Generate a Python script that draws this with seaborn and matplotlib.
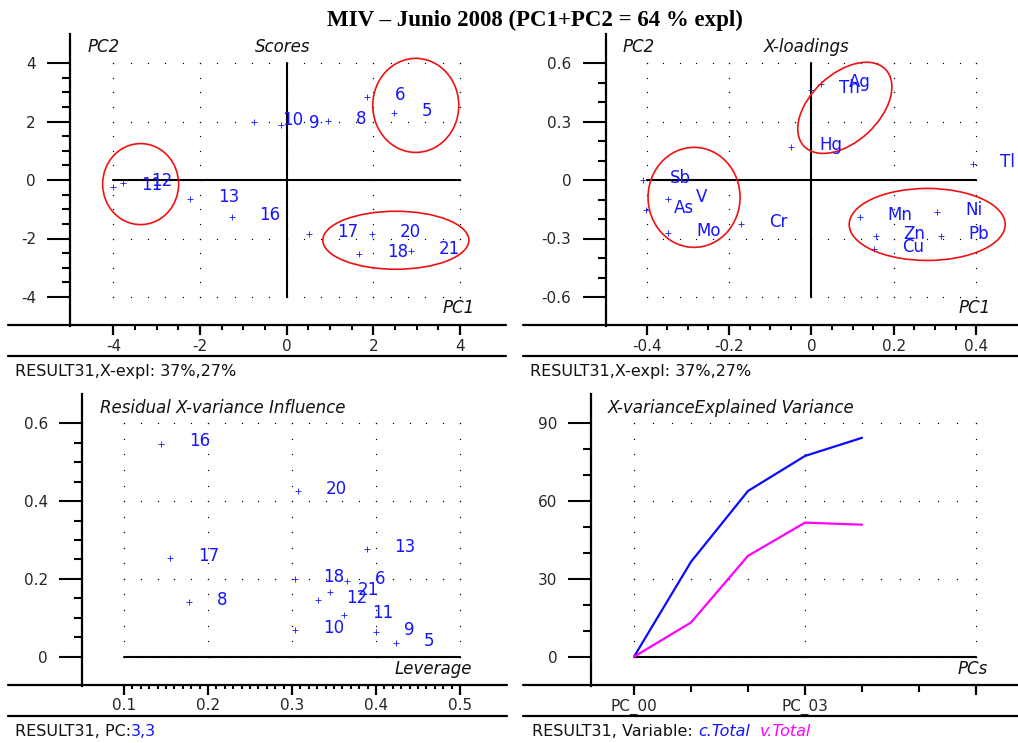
import numpy as np
import pandas as pd
import seaborn as sns
import matplotlib
matplotlib.use("Agg")
import matplotlib.pyplot as plt
from matplotlib.patches import Ellipse
from matplotlib.transforms import Affine2D
from matplotlib.lines import Line2D

# ---------------- data ----------------
score_labels = ['5', '6', '8', '9', '10', '11', '12', '13', '16', '17', '18', '20', '21']
score_pc1 = [2.48, 1.85, 0.95, -0.12, -0.75, -4.00, -3.78, -2.22, -1.27, 0.52, 1.68, 1.96, 2.87]
score_pc2 = [2.29, 2.83, 2.03, 1.89, 1.97, -0.25, -0.09, -0.65, -1.28, -1.85, -2.54, -1.85, -2.42]

load_vars = ['Ag', 'Th', 'Hg', 'Tl', 'Sb', 'V', 'As', 'Mo', 'Cr', 'Mn', 'Ni', 'Zn', 'Cu', 'Pb']
load_pc1 = [0.024, 0.000, -0.049, 0.391, -0.410, -0.348, -0.401, -0.348, -0.170, 0.117, 0.306, 0.156, 0.152, 0.314]
load_pc2 = [0.492, 0.463, 0.168, 0.082, 0.000, -0.098, -0.154, -0.270, -0.226, -0.192, -0.163, -0.288, -0.355, -0.288]

infl_labels = ['16', '20', '13', '17', '18', '6', '21', '12', '8', '11', '10', '9', '5']
leverage = [0.144, 0.3075, 0.389, 0.155, 0.304, 0.365, 0.345, 0.331, 0.177, 0.362, 0.304, 0.400, 0.424]
res_var = [0.548, 0.426, 0.277, 0.254, 0.200, 0.195, 0.165, 0.146, 0.140, 0.107, 0.069, 0.064, 0.034]

pcs = [0, 1, 2, 3, 4]
cal_total = [0.0, 36.6, 63.9, 77.4, 84.4]
val_total = [0.0, 13.2, 38.9, 51.7, 50.9]

title = "MIV – Junio 2008 (PC1+PC2 = 64 % expl)"

# ---------------- style ----------------
sns.set_theme(style="white")
plt.rcParams['font.family'] = ['DejaVu Sans']
plt.rcParams['axes.unicode_minus'] = False
BLUE = '#1414ff'
MAG = '#ff00ff'
W, H = 1018, 743
fig = plt.figure(figsize=(W / 100, H / 100), dpi=100)
fig.patch.set_facecolor('white')


def fr(left, top, right, bottom):
    return [left / W, 1 - bottom / H, (right - left) / W, (bottom - top) / H]


ax1 = fig.add_axes(fr(70, 33.75, 503.3, 326.25))
ax2 = fig.add_axes(fr(605.5, 33.75, 1017.4, 326.25))
ax3 = fig.add_axes(fr(82, 394.2, 502, 685.8))
ax4 = fig.add_axes(fr(591.25, 394.1, 1018.75, 685.9))


def style_axes(ax, xlim, ylim, xmaj, xmin, ymaj, ymin, xlabels=None):
    ax.set_facecolor('white')
    ax.set_xlim(*xlim)
    ax.set_ylim(*ylim)
    ax.set_xticks(xmaj)
    ax.set_xticks(xmin, minor=True)
    ax.set_yticks(ymaj)
    ax.set_yticks(ymin, minor=True)
    if xlabels is not None:
        ax.set_xticklabels(xlabels)
    for s in ['top', 'right', 'bottom']:
        ax.spines[s].set_visible(False)
    ax.spines['left'].set_linewidth(1.6)
    ax.spines['left'].set_color('black')
    ax.tick_params(axis='y', which='major', direction='out', length=16.5, width=1.5,
                   pad=8.0, labelsize=11, color='black', left=True)
    ax.tick_params(axis='y', which='minor', direction='out', length=5.8, width=1.5,
                   color='black', left=True)
    ax.tick_params(axis='x', which='major', direction='out', length=6.5, width=1.6,
                   pad=2.5, labelsize=11, color='black', bottom=True)
    ax.tick_params(axis='x', which='minor', direction='out', length=3, width=1.5,
                   color='black', bottom=True)
    ax.set_xlabel('')
    ax.set_ylabel('')
    ax.grid(False)


def grid_dots(ax, xmaj, ymaj, dx, dy):
    xs, ys = [], []
    for y in ymaj:
        xx = np.arange(xmaj[0], xmaj[-1] + dx / 2, dx)
        xs += list(xx)
        ys += [y] * len(xx)
    for x in xmaj:
        yy = np.arange(ymaj[0], ymaj[-1] + dy / 2, dy)
        xs += [x] * len(yy)
        ys += list(yy)
    ax.plot(xs, ys, ls='none', marker='s', ms=0.85, mew=0, color='black', zorder=1)


def px_ellipse(ax, cx, cy, w, h, ang=0):
    x0, x1 = ax.get_xlim()
    y0, y1 = ax.get_ylim()
    kx = ax.bbox.width / (x1 - x0)
    ky = ax.bbox.height / (y1 - y0)
    e = Ellipse((0, 0), w, h, angle=ang, fill=False, ec='#ee1111', lw=1.2,
                transform=Affine2D().scale(1 / kx, 1 / ky).translate(cx, cy) + ax.transData,
                zorder=4)
    ax.add_patch(e)


def label_points(ax, xs, ys, labels):
    for x, y, t in zip(xs, ys, labels):
        ax.annotate(t, (x, y), xytext=(20, 1.5), textcoords='offset points',
                    color=BLUE, fontsize=12, ha='left', va='center',
                    annotation_clip=False, zorder=5)


def corner_text(ax_fig_x, ax_fig_y, s, **kw):
    fig.text(ax_fig_x / W, 1 - ax_fig_y / H, s, fontsize=12, style='italic',
             ha='left', va='center', color='#111111', **kw)


def points(ax, df, x, y):
    sns.scatterplot(data=df, x=x, y=y, ax=ax, marker='+', color=BLUE,
                    s=14, linewidth=0.6, zorder=3)
    ax.set_xlabel('')
    ax.set_ylabel('')


# ---------------- Scores ----------------
sx_maj = [-4, -2, 0, 2, 4]
sy_maj = [-4, -2, 0, 2, 4]
style_axes(ax1, (-5, 5), (-5, 5), sx_maj, np.arange(-4, 4.01, 0.5),
           sy_maj, np.arange(-4, 4.01, 0.5))
grid_dots(ax1, sx_maj, sy_maj, 0.4, 0.5)
ax1.plot([sx_maj[0], sx_maj[-1]], [0, 0], color='black', lw=1.5, zorder=2)
ax1.plot([0, 0], [sy_maj[0], sy_maj[-1]], color='black', lw=1.5, zorder=2)
df_s = pd.DataFrame({'PC1': score_pc1, 'PC2': score_pc2, 'obj': score_labels})
points(ax1, df_s, 'PC1', 'PC2')
label_points(ax1, score_pc1, score_pc2, score_labels)
px_ellipse(ax1, -3.37, -0.14, 76, 81)
px_ellipse(ax1, 2.98, 2.55, 86, 94)
px_ellipse(ax1, 2.52, -2.06, 146, 58)

# ---------------- Loadings ----------------
lx_maj = [-0.4, -0.2, 0, 0.2, 0.4]
ly_maj = [-0.6, -0.3, 0, 0.3, 0.6]
style_axes(ax2, (-0.5, 0.5), (-0.75, 0.75), lx_maj, np.arange(-0.4, 0.401, 0.05),
           ly_maj, np.arange(-0.6, 0.601, 0.1), xlabels=['-0.4', '-0.2', '0', '0.2', '0.4'])
ax2.set_yticklabels(['-0.6', '-0.3', '0', '0.3', '0.6'])
grid_dots(ax2, lx_maj, ly_maj, 0.04, 0.075)
ax2.plot([lx_maj[0], lx_maj[-1]], [0, 0], color='black', lw=1.5, zorder=2)
ax2.plot([0, 0], [ly_maj[0], ly_maj[-1]], color='black', lw=1.5, zorder=2)
df_l = pd.DataFrame({'PC1': load_pc1, 'PC2': load_pc2, 'var': load_vars})
points(ax2, df_l, 'PC1', 'PC2')
label_points(ax2, load_pc1, load_pc2, load_vars)
px_ellipse(ax2, -0.285, -0.089, 92, 100)
px_ellipse(ax2, 0.081, 0.37, 112, 68, 43)
px_ellipse(ax2, 0.281, -0.228, 156, 72)

# ---------------- Influence ----------------
ix_maj = [0.1, 0.2, 0.3, 0.4, 0.5]
iy_maj = [0, 0.2, 0.4, 0.6]
style_axes(ax3, (0.05, 0.55), (-0.075, 0.675), ix_maj, np.arange(0.1, 0.501, 0.01),
           iy_maj, np.arange(0, 0.601, 0.05), xlabels=['0.1', '0.2', '0.3', '0.4', '0.5'])
ax3.set_yticklabels(['0', '0.2', '0.4', '0.6'])
ax3.tick_params(axis='x', which='minor', length=2.5)
grid_dots(ax3, ix_maj, iy_maj, 0.02, 0.04)
ax3.plot([ix_maj[0], ix_maj[-1]], [0, 0], color='black', lw=1.5, zorder=2)
df_i = pd.DataFrame({'lev': leverage, 'res': res_var, 'obj': infl_labels})
points(ax3, df_i, 'lev', 'res')
label_points(ax3, leverage, res_var, infl_labels)

# ---------------- Explained variance ----------------
ex_maj = [0, 3, 6]
ey_maj = [0, 30, 60, 90]
style_axes(ax4, (-0.75, 6.75), (-11.25, 101.25), ex_maj, [1, 2, 4, 5],
           ey_maj, np.arange(0, 91, 10), xlabels=['PC_00', 'PC_03', ''])
ax4.tick_params(axis='x', which='minor', length=4)
grid_dots(ax4, ex_maj, ey_maj, 1 / 3, 6)
ax4.plot([ex_maj[0], ex_maj[-1]], [0, 0], color='black', lw=1.5, zorder=2)
df_e = pd.DataFrame({'PC': pcs + pcs,
                     'var': cal_total + val_total,
                     'set': ['c.Total'] * len(pcs) + ['v.Total'] * len(pcs)})
sns.lineplot(data=df_e, x='PC', y='var', hue='set', palette={'c.Total': '#0a0aff', 'v.Total': MAG},
             ax=ax4, lw=1.6, legend=False, zorder=3)
ax4.set_xlabel('')
ax4.set_ylabel('')

# ---------------- frame lines ----------------
for (x0, x1, y) in [(8, 506, 325), (8, 506, 356), (523, 1018, 325), (523, 1018, 356),
                    (8, 507, 685), (8, 507, 716), (523, 1018, 685), (523, 1018, 716)]:
    fig.add_artist(Line2D([x0 / W, x1 / W], [1 - y / H, 1 - y / H], color='black', lw=1.6))

# ---------------- texts ----------------
fig.text(535 / W, 1 - 20 / H, title, fontsize=16.5, fontweight='bold',
         family=['Liberation Serif', 'DejaVu Serif'], ha='center', va='center', color='black')

corner_text(88, 47, 'PC2')
corner_text(255, 47, 'Scores')
corner_text(443, 308, 'PC1')
corner_text(623, 47, 'PC2')
corner_text(764, 47, 'X-loadings')
corner_text(959, 308, 'PC1')
corner_text(100, 408, 'Residual X-variance Influence')
corner_text(395, 669, 'Leverage')
corner_text(608, 408, 'X-varianceExplained Variance')
corner_text(958, 669, 'PCs')

renderer = fig.canvas.get_renderer()


def colored_text(x_px, y_px, parts):
    x = x_px
    for s, color, st in parts:
        t = fig.text(x / W, 1 - y_px / H, s, color=color, style=st, fontsize=11.5,
                     ha='left', va='center')
        x += t.get_window_extent(renderer).width


colored_text(15, 371, [('RESULT31,X-expl: 37%,27%', '#111111', 'normal')])
colored_text(530, 371, [('RESULT31,X-expl: 37%,27%', '#111111', 'normal')])
colored_text(15, 731, [('RESULT31, PC:', '#111111', 'normal'), ('3,3', BLUE, 'normal')])
colored_text(532, 731, [('RESULT31, Variable: ', '#111111', 'normal'), ('c.Total', BLUE, 'italic'),
                        ('  ', '#111111', 'normal'), ('v.Total', MAG, 'italic')])

fig.savefig('out.png', dpi=100, facecolor='white')
